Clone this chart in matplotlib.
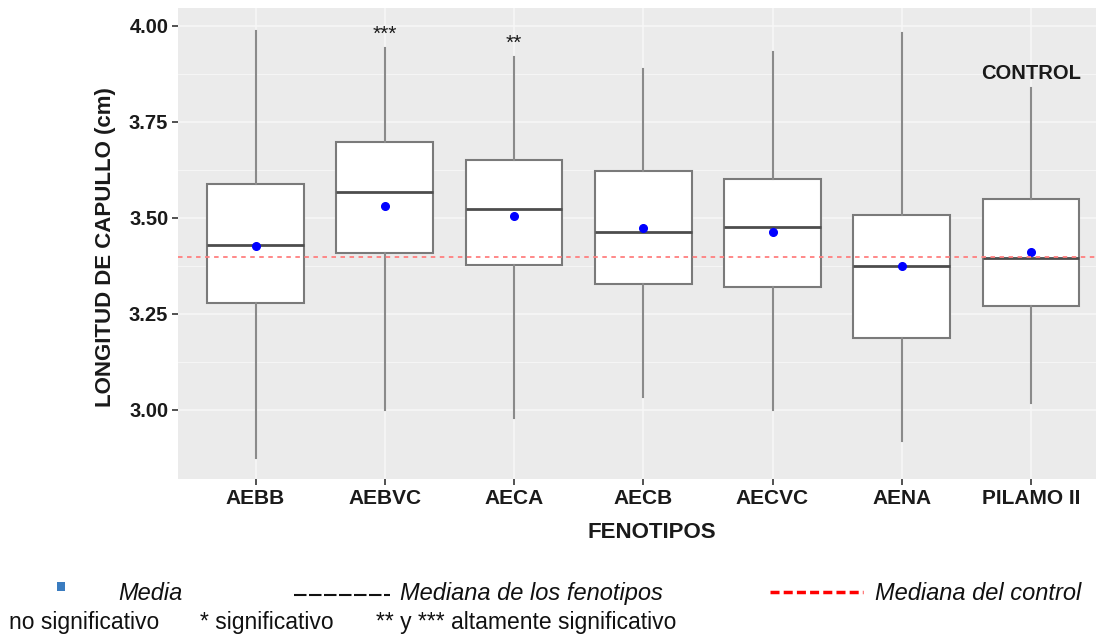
import matplotlib
matplotlib.use("Agg")
import matplotlib.pyplot as plt
from matplotlib.lines import Line2D
from matplotlib.patches import Rectangle

categories = ['AEBB', 'AEBVC', 'AECA', 'AECB', 'AECVC', 'AENA', 'PILAMO II']
whislo = [2.874, 3.000, 2.979, 3.034, 3.000, 2.918, 3.018]
q1 = [3.279, 3.407, 3.377, 3.327, 3.320, 3.186, 3.270]
med = [3.429, 3.567, 3.522, 3.462, 3.475, 3.375, 3.396]
q3 = [3.588, 3.697, 3.650, 3.621, 3.600, 3.507, 3.548]
whishi = [3.987, 3.942, 3.919, 3.887, 3.932, 3.981, 3.838]
means = [3.427, 3.530, 3.505, 3.473, 3.463, 3.374, 3.411]
control_median = 3.398
signif = ['', '***', '**', '', '', '', '']
yticks = [3.00, 3.25, 3.50, 3.75, 4.00]
ytick_labels = ['3.00', '3.25', '3.50', '3.75', '4.00']

plt.rcParams['font.family'] = ['Liberation Sans', 'DejaVu Sans']
W, H = 1096, 635
fig = plt.figure(figsize=(W / 100, H / 100), dpi=100)

def fx(x):
    return x / W

def fy(y):
    return 1 - y / H

left, right, top, bottom = 178, 1096, 8, 479
ax = fig.add_axes([fx(left), fy(bottom), fx(right - left), (bottom - top) / H])
ax.set_facecolor('#EBEBEB')
for s in ax.spines.values():
    s.set_visible(False)

positions = list(range(1, len(categories) + 1))
stats = []
for i in range(len(categories)):
    stats.append(dict(whislo=whislo[i], q1=q1[i], med=med[i], q3=q3[i],
                      whishi=whishi[i], fliers=[], label=categories[i]))

ax.bxp(stats, positions=positions, widths=0.75, patch_artist=True,
       showcaps=False, showfliers=False,
       boxprops=dict(facecolor='white', edgecolor='#7A7A7A', linewidth=1.5),
       medianprops=dict(color='#4D4D4D', linewidth=2.0),
       whiskerprops=dict(color='#8A8A8A', linewidth=1.5),
       zorder=3)

ax.plot(positions, means, linestyle='none', marker='o', markersize=5.5,
        color='#0000FF', zorder=5)

ax.axhline(control_median, color='#FF7F7F', linestyle=(0, (2.5, 2.5)),
           linewidth=1.3, zorder=6)

for p, s, hi in zip(positions, signif, whishi):
    if s:
        ax.text(p, hi + 0.036, s, ha='center', va='center', fontsize=15,
                color='#1a1a1a', zorder=7)

ax.text(positions[-1], 3.875, 'CONTROL', ha='center', va='center',
        fontsize=14.5, fontweight='bold', color='#1a1a1a', zorder=7)

ax.set_xlim(0.4, 7.503)
ax.set_ylim(2.8195, 4.046)
ax.set_yticks(yticks)
ax.set_yticklabels(ytick_labels)
ax.set_yticks([3.125, 3.375, 3.625, 3.875], minor=True)
ax.set_xticks(positions)
ax.set_xticklabels(categories)
ax.grid(True, which='major', color='#F7F7F7', linewidth=1.1, zorder=0)
ax.grid(True, which='minor', axis='y', color='#F7F7F7', linewidth=0.6, zorder=0)
ax.set_axisbelow(True)
ax.tick_params(axis='both', which='major', length=4, width=1.2, color='#333333',
               labelsize=14.5, labelcolor='#1a1a1a', pad=3)
ax.tick_params(axis='x', which='major', labelsize=15)
ax.tick_params(axis='y', which='minor', length=0)
for lab in ax.get_xticklabels() + ax.get_yticklabels():
    lab.set_fontweight('bold')

fig.text(fx(652), fy(533), 'FENOTIPOS', ha='center', va='center',
         fontsize=16, fontweight='bold', color='#1a1a1a')
fig.text(fx(106), fy(247), 'LONGITUD DE CAPULLO (cm)', ha='center', va='center',
         rotation=90, fontsize=16, fontweight='bold', color='#1a1a1a')

# legend-like notes
fig.patches.append(Rectangle((fx(57), fy(591)), fx(8), 9 / H, transform=fig.transFigure,
                             facecolor='#3A7CC0', edgecolor='none'))
fig.text(fx(118), fy(600), 'Media', fontsize=17, style='italic', va='baseline', color='#111111')
fig.lines.append(Line2D([fx(294), fx(390)], [fy(595), fy(595)], transform=fig.transFigure,
                        color='#111111', linewidth=1.5, linestyle=(0, (6, 1.2))))
fig.text(fx(400), fy(600), 'Mediana de los fenotipos', fontsize=17, style='italic',
         va='baseline', color='#111111')
fig.lines.append(Line2D([fx(770), fx(863)], [fy(592), fy(592)], transform=fig.transFigure,
                        color='#FF0000', linewidth=2.5, linestyle=(0, (2.6, 1.2))))
fig.text(fx(875), fy(600), 'Mediana del control', fontsize=17, style='italic',
         va='baseline', color='#111111')
fig.text(fx(9), fy(629), 'no significativo', fontsize=16.5, va='baseline', color='#111111')
fig.text(fx(200), fy(629), '* significativo', fontsize=16.5, va='baseline', color='#111111')
fig.text(fx(376), fy(629), '** y *** altamente significativo', fontsize=16.5,
         va='baseline', color='#111111')

fig.savefig('out.png', dpi=100)
